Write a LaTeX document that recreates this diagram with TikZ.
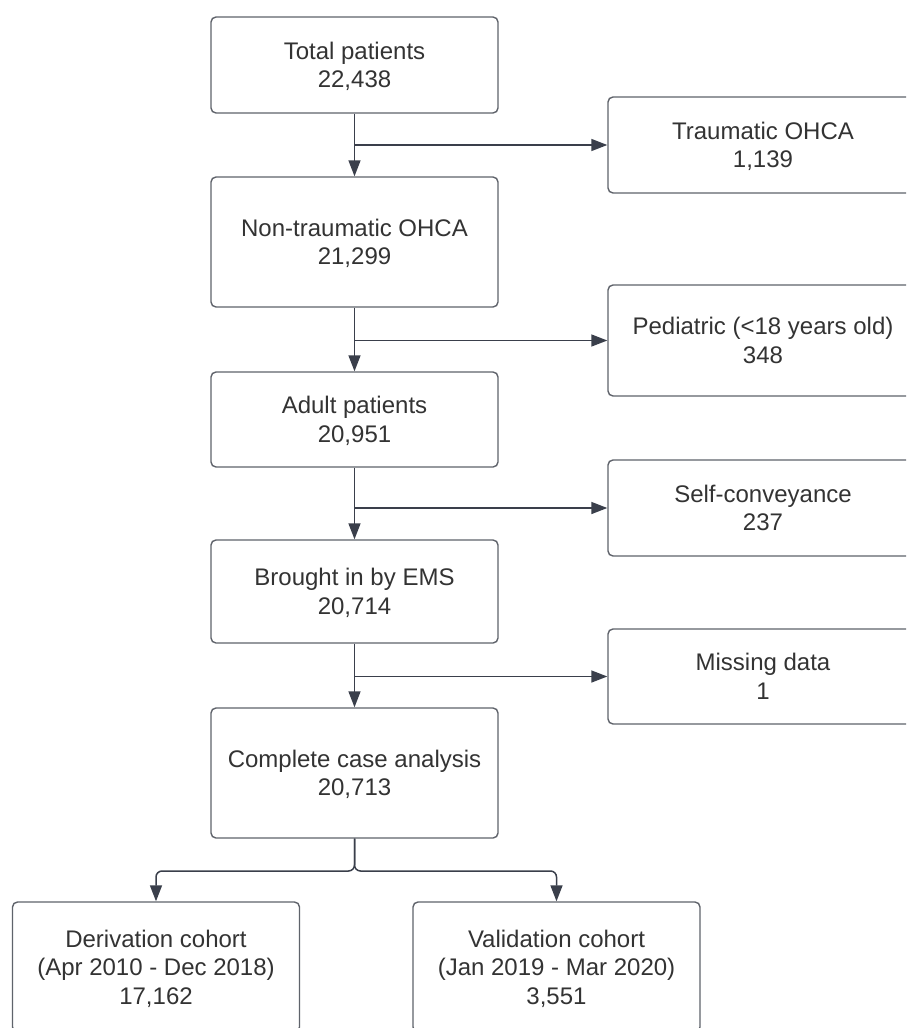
\documentclass[tikz,border=0pt]{standalone}
\usepackage{fontspec}
\setmainfont{Liberation Sans}
\usetikzlibrary{arrows.meta}
\definecolor{boxline}{HTML}{5F636B}
\definecolor{conn}{HTML}{3A3F4B}
\definecolor{txt}{HTML}{333333}
% one text line whose box is exactly cap height tall, no depth
\newcommand\txl[1]{\smash{#1}\rule{0pt}{17.2pt}}
\begin{document}
\begin{tikzpicture}[x=1pt,y=-1pt,
  box/.style={draw=boxline, line width=1.4pt, rounded corners=5pt, align=center,
    text=txt, font=\fontsize{24}{28.5}\selectfont, inner sep=0pt},
  mainbox/.style={box, minimum width=287pt},
  sidebox/.style={box, minimum width=310pt},
  link/.style={draw=conn, line width=1.5pt},
  arr/.style={link, -{Triangle[length=16pt,width=12pt]}}]
\useasboundingbox (0,0) rectangle (906,1028);
\clip (0,0) rectangle (906,1028);
\fill[white] (0,0) rectangle (906,1028);

% main column
\node[mainbox, minimum height=96pt]  (tot) at (354.5,65)  {\txl{Total patients}\\\txl{22,438}};
\node[mainbox, minimum height=130pt] (ntr) at (354.5,242) {\txl{Non-traumatic OHCA}\\\txl{21,299}};
\node[mainbox, minimum height=95pt]  (adu) at (354.5,419.5) {\txl{Adult patients}\\\txl{20,951}};
\node[mainbox, minimum height=103pt] (ems) at (354.5,591.5) {\txl{Brought in by EMS}\\\txl{20,714}};
\node[mainbox, minimum height=130pt] (cca) at (354.5,773) {\txl{Complete case analysis}\\\txl{20,713}};

% side boxes
\node[sidebox, minimum height=96pt]  (trm) at (763,145)   {\txl{Traumatic OHCA}\\\txl{1,139}};
\node[sidebox, minimum height=111pt] (ped) at (763,340.5) {\txl{Pediatric (<18 years old)}\\\txl{348}};
\node[sidebox, minimum height=96pt]  (slf) at (763,508)   {\txl{Self-conveyance}\\\txl{237}};
\node[sidebox, minimum height=95pt]  (mis) at (763,676.5) {\txl{Missing data}\\\txl{1}};

% cohorts
\node[mainbox, minimum height=130pt] (der) at (156,967)   {\txl{Derivation cohort}\\\txl{(Apr 2010 - Dec 2018)}\\\txl{17,162}};
\node[mainbox, minimum height=130pt] (val) at (556.5,967) {\txl{Validation cohort}\\\txl{(Jan 2019 - Mar 2020)}\\\txl{3,551}};

% vertical flow
\draw[arr] (tot.south) -- (ntr.north);
\draw[arr] (ntr.south) -- (adu.north);
\draw[arr] (adu.south) -- (ems.north);
\draw[arr] (ems.south) -- (cca.north);

% exclusions
\coordinate (j1) at (tot.south |- trm.west);
\coordinate (j2) at (ntr.south |- ped.west);
\coordinate (j3) at (adu.south |- slf.west);
\coordinate (j4) at (ems.south |- mis.west);
\draw[arr] (j1) -- (trm.west);
\draw[arr] (j2) -- (ped.west);
\draw[arr] (j3) -- (slf.west);
\draw[arr] (j4) -- (mis.west);

% split
\coordinate (sp) at (354.5,871);
\draw[arr, rounded corners=6pt] (cca.south) -- (sp) -| (der.north);
\draw[arr, rounded corners=6pt] (cca.south) -- (sp) -| (val.north);
\end{tikzpicture}
\end{document}
